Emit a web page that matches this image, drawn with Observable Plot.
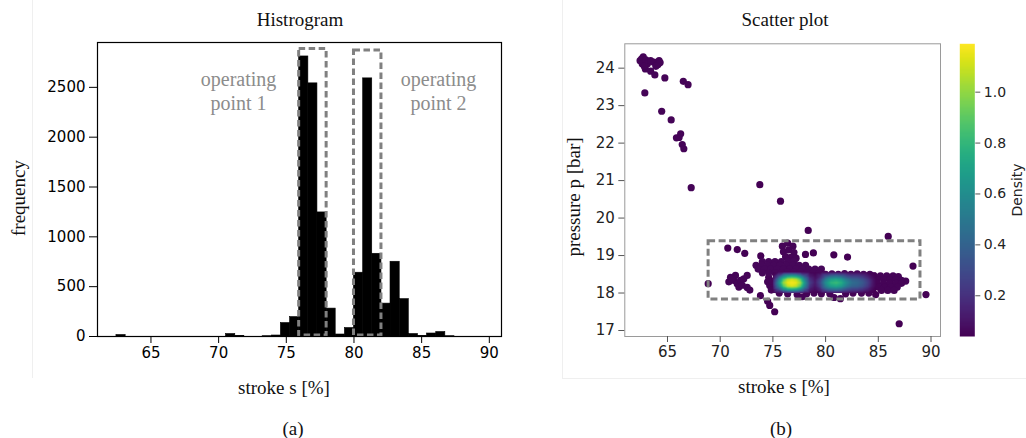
<!DOCTYPE html>
<html>
<head>
<meta charset="utf-8">
<script src="https://cdn.jsdelivr.net/npm/d3@7"></script>
<script src="https://cdn.jsdelivr.net/npm/@observablehq/plot@0.6"></script>
<style>
  html, body { margin: 0; padding: 0; background: #fff; }
  #figure { position: relative; width: 1026px; height: 438px; overflow: hidden; background: #fff; }
  #figure svg { position: absolute; top: 0; }
  .lbl { position: absolute; font-family: "Liberation Serif", "Times New Roman", serif; font-size: 19px;
         color: #111; white-space: nowrap; line-height: 1; transform: translate(-50%, -50%); }
  .rot { transform: translate(-50%, -50%) rotate(-90deg); }
  .cb { font-family: "DejaVu Sans", sans-serif; font-size: 14px; color: #222; }
  .seam { position: absolute; background: #efefef; }
</style>
</head>
<body>
<div id="figure"></div>
<script>
// ---------- Histogram of stroke s ----------
const binEdges = [62.45, 63.13, 63.80, 64.48, 65.15, 65.83, 66.50, 67.18, 67.85, 68.53,
                  69.20, 69.88, 70.55, 71.23, 71.90, 72.58, 73.25, 73.93, 74.60, 75.28,
                  75.95, 76.63, 77.30, 77.98, 78.65, 79.33, 80.00, 80.68, 81.35, 82.03,
                  82.70, 83.38, 84.05, 84.73, 85.40, 86.08, 86.75, 87.43, 88.10, 88.78, 89.45];
const binCounts = [15, 0, 0, 0, 0, 0, 0, 0, 0, 0,
                   0, 0, 25, 5, 0, 0, 3, 10, 135, 195,
                   2810, 2540, 1245, 280, 20, 85, 640, 2590, 830, 330,
                   750, 375, 25, 5, 30, 45, 3, 0, 0, 0];
const histXTicks = [65, 70, 75, 80, 85, 90];
const histYTicks = [0, 500, 1000, 1500, 2000, 2500];

// operating-point windows on the histogram
const opBoxFrom = [75.95, 80.00];
const opBoxTo = [77.98, 82.03];
const opBoxTop = [2885, 2870];
const opBoxBottom = [10, 10];
const opNoteS = [71.47, 86.25];
const opNoteCount = [2468, 2468];
const opNoteText = ["operating\npoint 1", "operating\npoint 2"];

// ---------- Scatter plot: stroke s vs pressure p, coloured by density ----------
// [s, p, density]
const driftPoints = [
  [62.4, 24.2, 0.05], [62.7, 24.3, 0.05], [62.55, 24.25, 0.05], [62.6, 24.12, 0.05],
  [62.95, 24.22, 0.05], [63.1, 24.12, 0.05], [62.9, 23.98, 0.05], [63.4, 23.92, 0.05],
  [63.7, 24.16, 0.05], [63.4, 24.2, 0.05], [64.2, 24.2, 0.05], [64.1, 24.1, 0.05],
  [64.3, 24.15, 0.05], [63.9, 24.05, 0.05], [62.8, 24.05, 0.05], [63.8, 23.82, 0.05],
  [64.75, 23.74, 0.05], [62.85, 23.34, 0.05], [66.5, 23.65, 0.05], [66.95, 23.56, 0.05],
  [64.45, 22.85, 0.05], [65.35, 22.62, 0.05], [65.85, 22.14, 0.05], [66.1, 22.15, 0.05],
  [66.25, 22.25, 0.05], [66.4, 21.96, 0.05], [66.55, 21.85, 0.05], [67.25, 20.81, 0.05]
];
const strayPoints = [
  [73.76, 20.89, 0.04], [75.72, 20.45, 0.04], [78.35, 19.67, 0.04], [85.94, 19.51, 0.04],
  [70.72, 19.2, 0.04], [71.62, 19.16, 0.04], [72.33, 19.06, 0.04], [73.85, 18.99, 0.04],
  [78.09, 19.03, 0.04], [78.84, 19.07, 0.04], [80.78, 19.02, 0.04], [82.08, 18.96, 0.04],
  [88.29, 18.72, 0.04], [68.86, 18.25, 0.04], [73.82, 17.93, 0.04], [74.5, 17.78, 0.04],
  [74.7, 17.67, 0.04], [75.17, 17.5, 0.04], [84.75, 17.96, 0.04], [86.98, 17.18, 0.04],
  [89.52, 17.96, 0.04]
];
const leftGroupPoints = [
  [70.82, 18.3, 0.05], [70.98, 18.42, 0.05], [71.29, 18.34, 0.05], [71.45, 18.47, 0.05],
  [71.61, 18.25, 0.05], [71.77, 18.16, 0.05], [71.93, 18.34, 0.05], [72.08, 18.21, 0.05],
  [72.24, 18.38, 0.05], [72.56, 18.47, 0.05], [72.56, 18.15, 0.05], [72.81, 18.08, 0.05],
  [71.1, 18.38, 0.05]
];
const bandPoints = [
  // upper shoulder above operating point 1
  [74.0, 18.84, 0.06], [74.6, 18.84, 0.06], [75.2, 18.84, 0.06], [75.8, 18.84, 0.06], [76.4, 18.84, 0.06], [77.0, 18.84, 0.06],
  [73.4, 18.74, 0.06], [73.9, 18.74, 0.06], [74.5, 18.74, 0.06], [75.1, 18.74, 0.06], [75.7, 18.74, 0.06], [76.3, 18.74, 0.06],
  [76.9, 18.74, 0.06], [77.5, 18.74, 0.06], [78.1, 18.74, 0.06],
  [73.6, 18.64, 0.06], [74.2, 18.64, 0.06], [74.8, 18.64, 0.06], [75.4, 18.64, 0.06], [76.0, 18.64, 0.06], [76.6, 18.64, 0.06],
  [77.2, 18.64, 0.06], [77.8, 18.64, 0.06], [78.4, 18.64, 0.06], [79.0, 18.64, 0.06], [79.6, 18.64, 0.06],
  [74.0, 18.54, 0.06], [74.6, 18.54, 0.06], [75.2, 18.54, 0.06], [75.8, 18.54, 0.06], [76.4, 18.56, 0.06], [77.0, 18.56, 0.06],
  [77.6, 18.56, 0.06], [78.2, 18.54, 0.06], [78.8, 18.54, 0.06], [79.4, 18.54, 0.06],
  [80.0, 18.5, 0.06], [80.6, 18.51, 0.06], [81.2, 18.5, 0.06], [81.8, 18.52, 0.06], [82.4, 18.5, 0.06],
  [83.0, 18.51, 0.06], [83.6, 18.5, 0.06], [84.2, 18.5, 0.06],
  // small cluster at about 19.2 bar
  [75.9, 19.25, 0.05], [76.4, 19.33, 0.05], [76.9, 19.25, 0.05], [76.0, 19.1, 0.05], [76.5, 19.15, 0.05],
  [77.0, 19.08, 0.05], [76.2, 18.97, 0.05], [76.7, 18.95, 0.05], [77.2, 18.93, 0.05],
  // left fringe of operating point 1
  [74.6, 18.42, 0.05], [74.5, 18.3, 0.05], [74.7, 18.2, 0.05], [74.85, 18.08, 0.05], [74.9, 18.32, 0.05],
  // lower fringe of the band
  [75.6, 18.0, 0.05], [76.4, 17.98, 0.05], [77.3, 17.96, 0.05], [77.8, 17.9, 0.05], [78.2, 17.98, 0.05],
  [78.9, 18.0, 0.05], [79.6, 17.98, 0.05], [80.4, 17.98, 0.05], [80.8, 17.88, 0.05], [81.4, 17.85, 0.05],
  [81.9, 17.98, 0.05], [82.6, 18.0, 0.05], [83.4, 18.0, 0.05], [84.1, 18.0, 0.05],
  // right end of the band
  [84.6, 18.46, 0.05], [85.2, 18.46, 0.05], [85.8, 18.46, 0.05], [86.4, 18.46, 0.05], [86.9, 18.44, 0.05],
  [84.9, 18.36, 0.05], [85.5, 18.36, 0.05], [86.1, 18.36, 0.05], [86.7, 18.36, 0.05], [87.2, 18.34, 0.05], [87.6, 18.32, 0.05],
  [84.9, 18.26, 0.05], [85.5, 18.26, 0.05], [86.1, 18.26, 0.05], [86.7, 18.26, 0.05], [87.2, 18.26, 0.05],
  [85.0, 18.16, 0.05], [85.6, 18.16, 0.05], [86.2, 18.16, 0.05], [86.8, 18.16, 0.05],
  [85.3, 18.07, 0.05], [85.9, 18.07, 0.05], [86.5, 18.07, 0.05]
];

// density over the dense core of the band (rows: pressure, columns: stroke)
const coreS = [75.0, 75.5, 76.0, 76.4, 76.8, 77.2, 77.6, 78.0, 78.5, 79.0, 79.5,
               80.0, 80.5, 81.0, 81.5, 82.0, 82.5, 83.0, 83.5, 84.0, 84.5, 84.8];
const coreP = [18.55, 18.45, 18.36, 18.27, 18.18, 18.09, 18.0];
const coreDensity = [
  [0.04, 0.07, 0.12, 0.14, 0.15, 0.14, 0.12, 0.08, 0.05, 0.04, 0.05, 0.08, 0.10, 0.11, 0.10, 0.08, 0.07, 0.07, 0.06, 0.05, 0.04, 0.04],
  [0.06, 0.27, 0.55, 0.68, 0.72, 0.68, 0.56, 0.34, 0.12, 0.07, 0.15, 0.32, 0.42, 0.45, 0.40, 0.30, 0.25, 0.24, 0.20, 0.13, 0.06, 0.04],
  [0.10, 0.48, 0.88, 1.07, 1.12, 1.07, 0.90, 0.57, 0.20, 0.10, 0.25, 0.52, 0.68, 0.72, 0.66, 0.50, 0.40, 0.38, 0.32, 0.22, 0.09, 0.05],
  [0.12, 0.58, 1.00, 1.15, 1.17, 1.15, 1.02, 0.66, 0.25, 0.12, 0.30, 0.60, 0.78, 0.82, 0.75, 0.58, 0.45, 0.42, 0.36, 0.25, 0.10, 0.05],
  [0.10, 0.48, 0.88, 1.07, 1.12, 1.07, 0.90, 0.57, 0.20, 0.10, 0.25, 0.52, 0.68, 0.72, 0.66, 0.50, 0.40, 0.38, 0.32, 0.22, 0.09, 0.05],
  [0.06, 0.27, 0.55, 0.68, 0.72, 0.68, 0.56, 0.34, 0.12, 0.07, 0.15, 0.32, 0.42, 0.45, 0.40, 0.30, 0.25, 0.24, 0.20, 0.13, 0.06, 0.04],
  [0.04, 0.07, 0.12, 0.14, 0.15, 0.14, 0.12, 0.08, 0.05, 0.04, 0.05, 0.08, 0.10, 0.11, 0.10, 0.08, 0.07, 0.07, 0.06, 0.05, 0.04, 0.04]
];

// steady-state window drawn on the scatter plot
const windowS = [68.9, 89.0];
const windowP = [17.83, 19.38];

const scatterXTicks = [65, 70, 75, 80, 85, 90];
const scatterYTicks = [17, 18, 19, 20, 21, 22, 23, 24];
const densityTicks = [0.2, 0.4, 0.6, 0.8, 1.0];
const densityDomain = [0.04, 1.19];

// ---------- build tables ----------
const bins = binCounts.map((c, i) => ({lo: binEdges[i], hi: binEdges[i + 1], count: c}));
const filledBins = bins.filter(b => b.count > 0);
const opBoxes = opBoxFrom.map((s, i) => ({s1: s, s2: opBoxTo[i], c1: opBoxBottom[i], c2: opBoxTop[i]}));
const opNotes = opNoteS.map((s, i) => ({s, count: opNoteCount[i], text: opNoteText[i]}));
const points = [...driftPoints, ...strayPoints, ...leftGroupPoints, ...bandPoints]
  .map(([s, p, d]) => ({s, p, d}))
  .sort((a, b) => a.d - b.d);
const coreSamples = coreP.flatMap((p, i) => coreS.map((s, j) => ({s, p, d: coreDensity[i][j]})));
const colorScale = {type: "linear", scheme: "viridis", domain: densityDomain};

const fig = document.getElementById("figure");

const hist = Plot.plot({
  width: 520, height: 438,
  marginLeft: 97, marginRight: 19, marginTop: 42, marginBottom: 102,
  style: {fontFamily: "DejaVu Sans, sans-serif", fontSize: "15px", color: "#000", background: "transparent", overflow: "visible"},
  x: {domain: [61.05, 90.9]},
  y: {domain: [0, 2950]},
  marks: [
    Plot.rect(filledBins, {x1: "lo", x2: "hi", y1: 0, y2: "count", fill: "black",
      stroke: "black", strokeWidth: 0.6, inset: 0}),
    Plot.rect(opBoxes, {x1: "s1", x2: "s2", y1: "c1", y2: "c2", fill: "none",
      stroke: "#808080", strokeWidth: 3, strokeDasharray: "6.5,3.5"}),
    Plot.text(opNotes, {x: "s", y: "count", text: "text", fill: "#8c8c8c", fontSize: 20,
      fontFamily: "Liberation Serif, Times New Roman, serif", lineHeight: 1.2}),
    Plot.frame({stroke: "black", strokeWidth: 1.2}),
    Plot.axisX(histXTicks, {tickSize: 7, tickPadding: 4, label: null}),
    Plot.axisY(histYTicks, {tickSize: 8, tickPadding: 4, tickFormat: d3.format("d"), label: null})
  ]
});
hist.style.left = "0px";
fig.appendChild(hist);

const scatter = Plot.plot({
  width: 390, height: 438,
  marginLeft: 64.3, marginRight: 10, marginTop: 43.3, marginBottom: 102,
  style: {fontFamily: "DejaVu Sans, sans-serif", fontSize: "15px", color: "#222", background: "transparent", overflow: "visible"},
  x: {domain: [60.95, 90.9]},
  y: {domain: [16.84, 24.65]},
  color: colorScale,
  marks: [
    Plot.dot(points, {x: "s", y: "p", fill: "d", r: 3.6}),
    Plot.raster(coreSamples, {x: "s", y: "p", fill: "d", interpolate: "barycentric",
      x1: 75.0, x2: 84.8, y1: 18.0, y2: 18.55}),
    Plot.rect([0], {x1: () => windowS[0], x2: () => windowS[1], y1: () => windowP[0], y2: () => windowP[1],
      fill: "none", stroke: "#808080", strokeWidth: 3, strokeDasharray: "7,3.5"}),
    Plot.frame({stroke: "#9a9a9a"}),
    Plot.axisX(scatterXTicks, {tickSize: 6, tickPadding: 4, stroke: "#555", fill: "#222", label: null}),
    Plot.axisY(scatterYTicks, {tickSize: 6, tickPadding: 4, stroke: "#555", fill: "#222", label: null})
  ]
});
scatter.style.left = "560px";
fig.appendChild(scatter);

const cbar = Plot.plot({
  width: 86, height: 438,
  marginLeft: 19.3, marginRight: 51.7, marginTop: 43.3, marginBottom: 102,
  style: {fontFamily: "DejaVu Sans, sans-serif", fontSize: "14px", color: "#222", background: "transparent", overflow: "visible"},
  x: {domain: [0, 1], axis: null},
  y: {domain: densityDomain},
  color: colorScale,
  marks: [
    Plot.raster({fill: (x, y) => y, x1: 0, x2: 1, y1: densityDomain[0], y2: densityDomain[1]}),
    Plot.axisY(densityTicks, {anchor: "right", tickSize: 5, tickPadding: 4, tickFormat: d3.format(".1f"),
      stroke: "#555", fill: "#222", label: null})
  ]
});
cbar.style.left = "940px";
fig.appendChild(cbar);

// panel titles, axis labels and captions
const labels = [
  {t: "Histrogram", x: 300, y: 19},
  {t: "Scatter plot", x: 785, y: 19},
  {t: "frequency", x: 18, y: 198, rot: true},
  {t: "pressure p [bar]", x: 573, y: 197, rot: true},
  {t: "stroke s [%]", x: 284, y: 387},
  {t: "stroke s [%]", x: 784, y: 386},
  {t: "(a)", x: 293, y: 428},
  {t: "(b)", x: 781, y: 428},
  {t: "Density", x: 1017, y: 190, rot: true, cls: "cb"}
];
for (const l of labels) {
  const d = document.createElement("div");
  d.className = "lbl" + (l.rot ? " rot" : "") + (l.cls ? " " + l.cls : "");
  d.textContent = l.t;
  d.style.left = l.x + "px";
  d.style.top = l.y + "px";
  fig.appendChild(d);
}

// faint seams between the two panels
for (const [x, y, w, h] of [[32, 0, 1, 378], [562, 0, 1, 378], [562, 378, 464, 1]]) {
  const s = document.createElement("div");
  s.className = "seam";
  Object.assign(s.style, {left: x + "px", top: y + "px", width: w + "px", height: h + "px"});
  fig.insertBefore(s, fig.firstChild);
}
</script>
</body>
</html>
